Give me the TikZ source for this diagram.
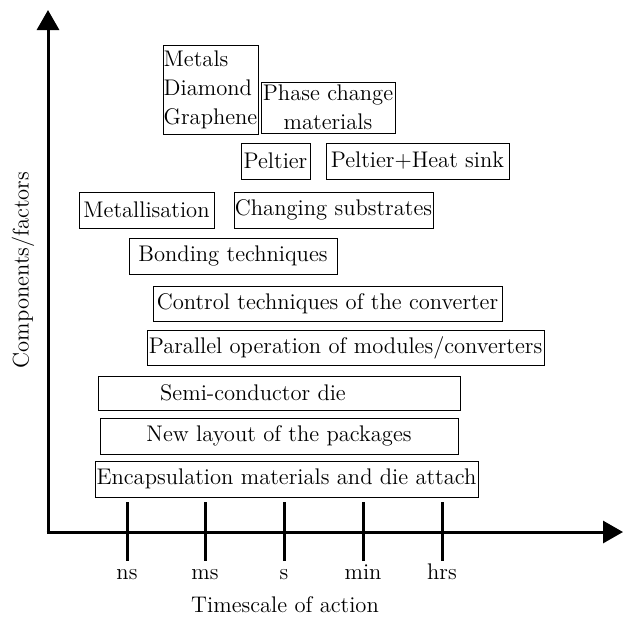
\documentclass[tikz,border=0pt]{standalone}
\usetikzlibrary{arrows.meta}
\begin{document}
\begin{tikzpicture}[x=0.5pt,y=-0.5pt,
  font=\fontsize{11.3}{14.5}\selectfont,
  box/.style={draw, line width=0.5pt, inner sep=0pt, align=center},
  axis/.style={line width=1.5pt},
  tick/.style={line width=1.5pt},
  lbl/.style={anchor=base, inner sep=0pt}]
\useasboundingbox (0,0) rectangle (624,617);
% boxes
\node[box, align=left, minimum width=47.5pt, minimum height=44.5pt] (metals) at (210.5,89.5) {Metals\\Diamond\\Graphene};
\node[box, minimum width=67pt, minimum height=25.5pt] (phase) at (328,107.5) {Phase change\\materials};
\node[box, minimum width=34.5pt, minimum height=18pt] (peltier) at (275.5,161) {Peltier};
\node[box, minimum width=91.5pt, minimum height=18pt] (peltierhs) at (417.5,161) {Peltier+Heat sink};
\node[box, minimum width=67.5pt, minimum height=18pt] (metal) at (146.5,210) {Metallisation};
\node[box, minimum width=99.5pt, minimum height=18pt] (chsub) at (333.5,210) {Changing substrates};
\node[box, minimum width=104pt, minimum height=18pt] (bond) at (233,256) {Bonding techniques};
\node[box, minimum width=174.5pt, minimum height=17.5pt] (control) at (327.5,303.5) {Control techniques of the converter};
\node[box, minimum width=198.5pt, minimum height=17.5pt] (parallel) at (345.5,347.5) {Parallel operation of modules/converters};
\node[box, minimum width=181pt, minimum height=17pt] (semi) at (279,393) {\hspace*{-26pt}Semi-conductor die};
\node[box, minimum width=179pt, minimum height=18pt] (layout) at (279,436) {New layout of the packages};
\node[box, minimum width=191.5pt, minimum height=18pt] (encap) at (286.5,479) {Encapsulation materials and die attach};
% axes
\coordinate (o) at (48,532);
\coordinate (ytop) at (48,10);
\coordinate (xend) at (623,532);
\draw[axis, -{Triangle[length=10pt,width=11pt]}] (o) -- (ytop);
\draw[axis, -{Triangle[length=10pt,width=11pt]}] ([xshift=-0.75pt]o) -- (xend);
% ticks
\foreach \x/\n/\t in {127/ns/ns, 205/ms/ms, 284/s/s, 363/min/min, 442/hrs/hrs}{
  \coordinate (t\n a) at (\x,502);
  \coordinate (t\n b) at (\x,561);
  \draw[tick] (t\n a) -- (t\n b);
  \node[lbl] (l\n) at (\x,579) {\t};
}
\node[lbl] (xlabel) at (285,612) {Timescale of action};
\node[rotate=90, inner sep=0pt] (ylabel) at (23,270) {Components/factors};
\end{tikzpicture}
\end{document}
